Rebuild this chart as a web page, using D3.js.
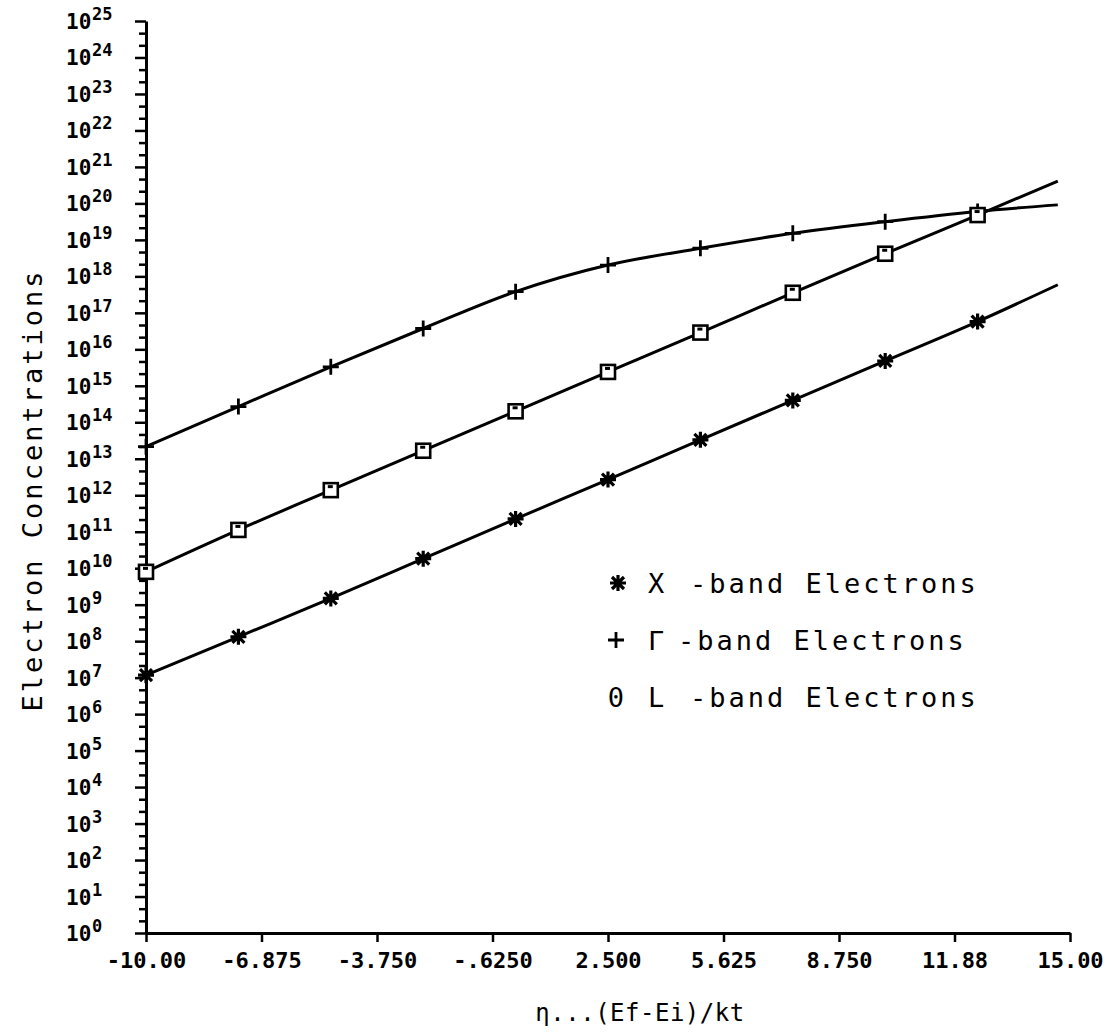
<!DOCTYPE html>
<html>
<head>
<meta charset="utf-8">
<script src="https://cdn.jsdelivr.net/npm/d3@7"></script>
<style>
  html, body { margin: 0; padding: 0; background: #fff; }
  svg { display: block; }
  text { font-family: "DejaVu Sans Mono", "Liberation Mono", monospace; fill: #000; }
</style>
</head>
<body>
<svg id="chart" width="1110" height="1033"></svg>
<script>
// ---- data ----
const etaPoints = [-10, -7.5, -5, -2.5, 0, 2.5, 5, 7.5, 10, 12.5, 14.67];
const markerCount = 10; // markers drawn at first 10 points, curves run to last point
const xBandValues = [1.17e7, 1.32e8, 1.48e9, 1.82e10, 2.24e11, 2.69e12, 3.31e13, 3.98e14, 4.79e15, 5.75e16, 5.89e17];
const gammaBandValues = [2.14e13, 2.69e14, 3.31e15, 3.72e16, 3.80e17, 2.04e18, 5.89e18, 1.51e19, 3.16e19, 6.03e19, 9.12e19];
const lBandValues = [7.94e9, 1.12e11, 1.38e12, 1.66e13, 2.0e14, 2.40e15, 2.88e16, 3.55e17, 4.17e18, 4.79e19, 4.07e20];

const xTickValues = [-10, -6.875, -3.75, -0.625, 2.5, 5.625, 8.75, 11.875, 15];
const xTickLabels = ["-10.00", "-6.875", "-3.750", "-.6250", "2.500", "5.625", "8.750", "11.88", "15.00"];
const yExponents = [0,1,2,3,4,5,6,7,8,9,10,11,12,13,14,15,16,17,18,19,20,21,22,23,24,25];

const legendSymbols = ["asterisk", "plus", "zero"];
const legendLetters = ["X", "\u0393", "L"];
const legendRest = ["-band Electrons", "-band Electrons", "-band Electrons"];

const xTitle = "\u03B7...(Ef-Ei)/kt";
const yTitle = "Electron Concentrations";

// ---- layout ----
const svg = d3.select("#chart");
svg.append("rect").attr("width", 1110).attr("height", 1033).attr("fill", "#fff");

const x = d3.scaleLinear().domain([-10, 15]).range([146, 1070]);
const y = d3.scaleLog().domain([1, 1e25]).range([933, 21]);

// x axis
const xAxis = d3.axisBottom(x).tickValues(xTickValues)
  .tickFormat((d, i) => xTickLabels[i]).tickSize(9).tickSizeOuter(0).tickPadding(10);
const gx = svg.append("g").attr("transform", "translate(0,933)").call(xAxis);
gx.select(".domain").attr("stroke", "#000").attr("stroke-width", 3);
gx.selectAll(".tick line").attr("stroke", "#000").attr("stroke-width", 2.5);
gx.selectAll(".tick text").attr("font-size", 22).attr("font-weight", "bold")
  .attr("font-family", "DejaVu Sans Mono").attr("fill", "#000");

// y axis: major ticks at decades, minor ticks at thirds
const minorVals = [];
yExponents.slice(0, -1).forEach(e => { minorVals.push(Math.pow(10, e + 1/3)); minorVals.push(Math.pow(10, e + 2/3)); });
const yMinor = d3.axisLeft(y).tickValues(minorVals).tickFormat(() => "").tickSize(7).tickSizeOuter(0);
const gyMinor = svg.append("g").attr("transform", "translate(146,0)").call(yMinor);
gyMinor.selectAll(".tick line").attr("stroke", "#000").attr("stroke-width", 2.5);
gyMinor.select(".domain").remove();

const yMajor = d3.axisLeft(y).tickValues(yExponents.map(e => Math.pow(10, e)))
  .tickFormat(() => "").tickSize(11).tickSizeOuter(0);
const gy = svg.append("g").attr("transform", "translate(146,0)").call(yMajor);
gy.select(".domain").attr("stroke", "#000").attr("stroke-width", 3);
gy.selectAll(".tick line").attr("stroke", "#000").attr("stroke-width", 2.5);

// y tick labels: 10 with superscript exponent
const ylab = svg.append("g");
yExponents.forEach(e => {
  const yy = y(Math.pow(10, e));
  ylab.append("text").attr("x", 66).attr("y", yy + 8)
    .attr("font-size", 21).attr("font-weight", "bold").text("10");
  ylab.append("text").attr("x", 92).attr("y", yy - 1)
    .attr("font-size", 17).attr("font-weight", "bold").text(String(e));
});

// curves
const series = [
  { values: xBandValues, marker: "asterisk" },
  { values: gammaBandValues, marker: "plus" },
  { values: lBandValues, marker: "square" }
];
const line = d3.line().x(d => x(d[0])).y(d => y(d[1])).curve(d3.curveMonotoneX);

function drawMarker(g, type, cx, cy) {
  if (type === "asterisk") {
    const r = 8;
    const p = d3.path();
    p.moveTo(cx - r, cy); p.lineTo(cx + r, cy);
    p.moveTo(cx, cy - r); p.lineTo(cx, cy + r);
    p.moveTo(cx - r * 0.75, cy - r * 0.75); p.lineTo(cx + r * 0.75, cy + r * 0.75);
    p.moveTo(cx - r * 0.75, cy + r * 0.75); p.lineTo(cx + r * 0.75, cy - r * 0.75);
    g.append("path").attr("d", p.toString()).attr("stroke", "#000").attr("stroke-width", 3.2).attr("fill", "none");
  } else if (type === "plus") {
    const r = 8;
    const p = d3.path();
    p.moveTo(cx - r, cy); p.lineTo(cx + r, cy);
    p.moveTo(cx, cy - r); p.lineTo(cx, cy + r);
    g.append("path").attr("d", p.toString()).attr("stroke", "#000").attr("stroke-width", 2.8).attr("fill", "none");
  } else if (type === "square") {
    const s = 14;
    g.append("rect").attr("x", cx - s / 2).attr("y", cy - s / 2).attr("width", s).attr("height", s)
      .attr("fill", "#fff").attr("stroke", "#000").attr("stroke-width", 2.6);
    g.append("rect").attr("x", cx - 3).attr("y", cy - 5).attr("width", 5).attr("height", 3)
      .attr("fill", "#000");
  }
}

series.forEach(s => {
  const pts = etaPoints.map((e, i) => [e, s.values[i]]);
  svg.append("path").attr("d", line(pts)).attr("fill", "none")
    .attr("stroke", "#000").attr("stroke-width", 3);
  const gm = svg.append("g");
  pts.slice(0, markerCount).forEach(p => drawMarker(gm, s.marker, x(p[0]), y(p[1])));
});

// legend
const legRowY = [583, 640, 697];
const legRestX = [690, 678, 690];
const leg = svg.append("g");
legendSymbols.forEach((sym, i) => {
  const yy = legRowY[i];
  if (sym === "asterisk") drawMarker(leg, "asterisk", 618, yy);
  else if (sym === "plus") drawMarker(leg, "plus", 616, yy);
  else leg.append("text").attr("x", 616).attr("y", yy + 10).attr("text-anchor", "middle")
    .attr("font-family", "DejaVu Sans").attr("font-size", 27).text("0");
  leg.append("text").attr("x", 648).attr("y", yy + 10).attr("font-size", 27).text(legendLetters[i]);
  leg.append("text").attr("x", legRestX[i]).attr("y", yy + 10).attr("font-size", 27)
    .attr("letter-spacing", 3).text(legendRest[i]);
});

// axis titles
svg.append("text").attr("x", 640).attr("y", 1021).attr("text-anchor", "middle")
  .attr("font-size", 24).attr("letter-spacing", 0.5).text(xTitle);
svg.append("text").attr("transform", "translate(42,490) rotate(-90)").attr("text-anchor", "middle")
  .attr("font-size", 27).attr("letter-spacing", 3).text(yTitle);
</script>
</body>
</html>
